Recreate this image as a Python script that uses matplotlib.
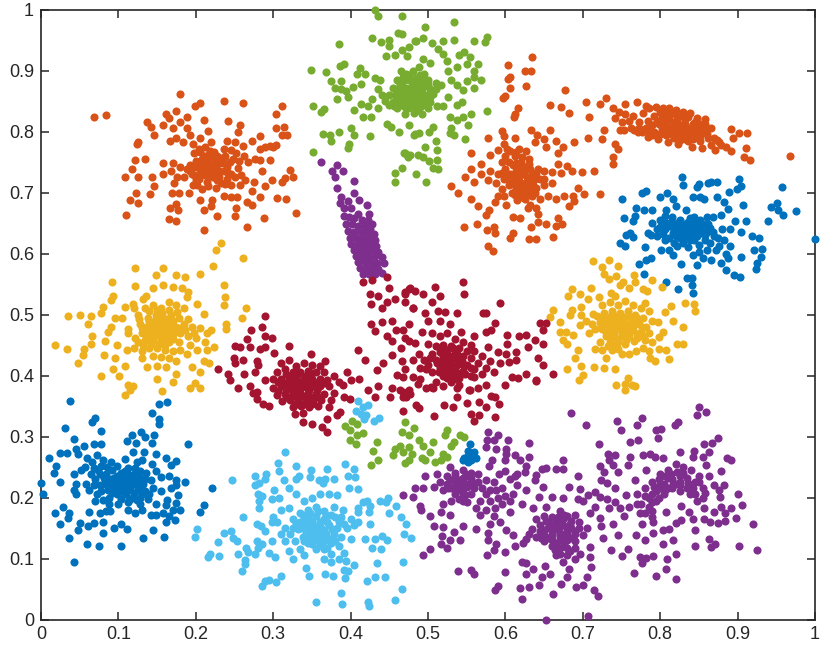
import matplotlib
matplotlib.use("Agg")
import matplotlib.pyplot as plt

tick_values = [0, .1, .2, .3, .4, .5, .6, .7, .8, .9, 1]
tick_labels = ['0', '0.1', '0.2', '0.3', '0.4', '0.5', '0.6', '0.7', '0.8', '0.9', '1']

blue_left = [(.037,.359),(.152,.354),(.163,.356),(.143,.339),(.152,.328),(.153,.321),(.070,.331),(.066,.323),(.031,.314),(.077,.309),(.117,.303),(.129,.308),(.135,.299),(.146,.302),(.042,.296),(.111,.293),(.123,.290),(.143,.289),(.190,.287),(.055,.284),(.069,.287),(.077,.288),(.045,.280),(.010,.264),(.025,.273),(.033,.273),(.048,.271),(.019,.251),(.017,.240),(.025,.225),(.000,.223),(.003,.206),(.018,.175),(.028,.184),(.036,.175),(.035,.166),(.025,.157),(.036,.133),(.043,.094),(.048,.147),(.050,.158),(.059,.124),(.075,.121),(.103,.120),(.132,.134),(.159,.135),(.145,.147),(.094,.150),(.080,.141),(.111,.149),(.104,.157),(.061,.154),(.069,.158),(.080,.160),(.062,.176),(.076,.175),(.089,.178),(.121,.174),(.142,.171),(.149,.171),(.157,.175),(.161,.160),(.173,.163),(.180,.180),(.175,.191),(.177,.204),(.161,.187),(.186,.226),(.175,.228),(.175,.221),(.165,.236),(.175,.260),(.162,.265),(.168,.253),(.149,.243),(.155,.233),(.144,.255),(.148,.271),(.133,.275),(.119,.275),(.109,.263),(.124,.258),(.221,.216),(.210,.187),(.205,.176),
(.060,.265),(.066,.258),(.057,.250),(.072,.270),(.080,.262),(.085,.250),(.090,.258),(.074,.245),(.064,.238),(.052,.245),(.043,.238),(.045,.222),(.058,.222),(.070,.230),(.062,.212),(.072,.205),(.084,.238),(.092,.245),(.098,.252),(.104,.240),(.112,.248),(.122,.248),(.130,.262),(.136,.240),(.128,.232),(.118,.236),(.108,.232),(.098,.236),(.090,.230),(.082,.222),(.092,.222),(.100,.226),(.110,.224),(.120,.222),(.132,.222),(.142,.228),(.145,.215),(.135,.210),(.125,.212),(.115,.215),(.105,.215),(.095,.214),(.086,.212),(.078,.210),(.088,.200),(.098,.205),(.108,.205),(.118,.200),(.128,.200),(.138,.198),(.148,.190),(.128,.190),(.112,.192),(.100,.190),(.088,.190),(.084,.178),(.112,.180),(.130,.180),(.168,.215),(.155,.210),(.163,.196),(.170,.180),(.165,.170),(.100,.230),(.105,.222),(.112,.212),(.095,.222),(.118,.228),(.042,.212),(.045,.205),(.080,.196),(.070,.195)]
blue_left_core = [(.094,.232),(.102,.236),(.112,.238),(.122,.240),(.086,.226),(.096,.228),(.106,.228),(.114,.230),(.124,.228),(.134,.230),(.088,.218),(.098,.218),(.108,.220),(.116,.220),(.126,.218),(.092,.208),(.102,.210),(.110,.208),(.120,.208),(.130,.206),(.140,.206),(.104,.198),(.114,.196),(.124,.196),(.076,.238),(.078,.252),(.068,.248),(.082,.232),(.076,.220),(.068,.220),(.108,.244),(.128,.244)]
blue_right = [(.828,.725),(.830,.713),(.847,.709),(.850,.714),(.862,.716),(.866,.718),(.874,.717),(.902,.722),(.905,.711),(.899,.706),(.889,.701),(.873,.693),(.957,.709),(.776,.700),(.782,.703),(.751,.690),(.800,.693),(.809,.699),(.817,.690),(.820,.678),(.842,.693),(.851,.693),(.857,.689),(.882,.685),(.888,.673),(.907,.680),(.943,.677),(.951,.683),(.952,.671),(.959,.663),(.975,.670),(.939,.654),(1.0,.624),(.769,.675),(.779,.671),(.789,.671),(.807,.672),(.833,.671),(.767,.662),(.765,.654),(.753,.658),(.868,.660),(.879,.663),(.897,.654),(.911,.653),(.904,.635),(.919,.628),(.928,.625),(.921,.605),(.932,.607),(.930,.594),(.925,.585),(.924,.575),(.903,.562),(.895,.564),(.885,.573),(.904,.595),(.890,.612),(.883,.622),(.761,.633),(.756,.630),(.765,.627),(.748,.618),(.754,.613),(.784,.633),(.781,.610),(.788,.593),(.782,.589),(.773,.583),(.779,.566),(.807,.554),(.823,.542),(.834,.560),(.841,.560),(.841,.548),(.842,.536),(.827,.582),(.847,.581),(.801,.606),(.817,.597),(.878,.585),(.888,.593),(.866,.589),(.855,.592),(.842,.598),
(.790,.650),(.796,.640),(.788,.630),(.800,.655),(.806,.662),(.815,.660),(.822,.650),(.812,.645),(.804,.632),(.812,.625),(.820,.635),(.828,.642),(.836,.652),(.844,.660),(.852,.655),(.860,.660),(.862,.648),(.852,.640),(.842,.645),(.834,.632),(.826,.625),(.838,.622),(.848,.628),(.858,.630),(.868,.635),(.880,.640),(.890,.640),(.875,.625),(.864,.618),(.850,.614),(.836,.610),(.822,.612),(.812,.606),(.830,.638),(.840,.635),(.846,.650),(.826,.655),(.835,.645),(.845,.640),(.855,.648),(.818,.640),(.808,.650),(.872,.605),(.860,.605),(.850,.603),(.876,.612),(.885,.600)]
blue_right_core = [(.806,.640),(.814,.652),(.820,.628),(.826,.634),(.832,.648),(.838,.658),(.844,.650),(.850,.648),(.856,.640),(.860,.636),(.816,.634),(.824,.644),(.832,.626),(.838,.640),(.844,.632),(.852,.634),(.858,.622),(.844,.622),(.830,.618),(.818,.618),(.806,.622),(.796,.628),(.800,.644),(.864,.642),(.870,.628)]
blue_small = [(.554,.288),(.552,.277),(.560,.275),(.547,.264),(.554,.269),(.562,.265),(.556,.261),(.552,.258),(.558,.270),(.545,.261),(.550,.267)]

orange_left = [(.068,.823),(.084,.827),(.179,.861),(.206,.847),(.199,.842),(.237,.850),(.261,.846),(.312,.842),(.303,.828),(.162,.829),(.174,.833),(.165,.822),(.188,.823),(.210,.819),(.242,.818),(.137,.815),(.142,.807),(.158,.811),(.180,.815),(.171,.805),(.257,.811),(.304,.806),(.314,.808),(.146,.795),(.312,.795),(.318,.795),(.189,.805),(.192,.794),(.216,.801),(.255,.799),(.283,.792),(.125,.783),(.124,.780),(.167,.785),(.175,.790),(.183,.783),(.272,.784),(.261,.777),(.304,.778),(.296,.777),(.283,.772),(.122,.754),(.134,.755),(.158,.749),(.170,.749),(.117,.738),(.108,.725),(.125,.725),(.144,.725),(.158,.730),(.146,.710),(.123,.700),(.141,.698),(.115,.688),(.125,.683),(.110,.663),(.165,.657),(.175,.654),(.167,.674),(.174,.681),(.177,.672),(.169,.700),(.178,.699),(.191,.700),(.206,.687),(.211,.672),(.220,.678),(.221,.687),(.227,.662),(.211,.639),(.266,.643),(.250,.661),(.252,.674),(.266,.684),(.273,.679),(.288,.658),(.330,.666),(.305,.691),(.317,.689),(.283,.693),(.273,.703),(.246,.692),(.253,.692),(.237,.694),(.311,.717),(.315,.723),(.325,.725),(.322,.737),(.298,.721),(.289,.711),(.286,.735),(.296,.753),(.283,.753),(.275,.717),(.264,.720),(.257,.712),
(.168,.735),(.176,.725),(.172,.716),(.180,.742),(.188,.738),(.185,.726),(.195,.730),(.192,.745),(.200,.752),(.206,.745),(.210,.760),(.204,.772),(.198,.764),(.212,.775),(.218,.768),(.216,.752),(.222,.745),(.214,.735),(.205,.730),(.222,.725),(.214,.718),(.230,.735),(.232,.748),(.238,.760),(.228,.760),(.236,.772),(.245,.770),(.248,.755),(.240,.742),(.246,.730),(.254,.740),(.256,.752),(.262,.760),(.268,.750),(.276,.755),(.240,.722),(.232,.715),(.226,.708),(.250,.726),(.246,.712),(.258,.728),(.216,.710),(.208,.706),(.196,.712),(.224,.738),(.218,.742),(.210,.748),(.205,.738),(.212,.728),(.226,.752),(.200,.720),(.196,.780),(.206,.790),(.220,.782),(.240,.785),(.250,.782),(.290,.775),(.300,.775)]
orange_left_core = [(.200,.742),(.208,.755),(.214,.744),(.220,.758),(.226,.744),(.232,.756),(.198,.728),(.204,.722),(.210,.732),(.218,.728),(.224,.732),(.230,.726),(.236,.736),(.242,.732),(.206,.766),(.216,.762),(.224,.766),(.236,.748),(.192,.735),(.210,.740),(.220,.736),(.228,.720),(.238,.714),(.244,.750),(.252,.764),(.202,.712),(.212,.752)]
orange_mid = [(.634,.922),(.603,.909),(.625,.899),(.633,.900),(.606,.889),(.603,.886),(.627,.875),(.606,.872),(.599,.858),(.597,.855),(.677,.868),(.616,.839),(.613,.829),(.611,.823),(.658,.843),(.672,.840),(.682,.831),(.704,.849),(.722,.845),(.730,.855),(.708,.823),(.728,.802),(.707,.790),(.725,.788),(.741,.779),(.746,.772),(.739,.759),(.739,.746),(.595,.801),(.598,.793),(.578,.789),(.613,.789),(.633,.802),(.641,.794),(.658,.802),(.650,.788),(.652,.775),(.638,.782),(.665,.784),(.674,.775),(.668,.765),(.689,.783),(.556,.765),(.580,.762),(.598,.780),(.568,.747),(.668,.747),(.680,.743),(.699,.733),(.715,.736),(.686,.736),(.556,.738),(.548,.725),(.569,.731),(.560,.717),(.530,.710),(.539,.700),(.694,.707),(.701,.697),(.722,.697),(.687,.694),(.676,.695),(.688,.686),(.682,.678),(.666,.689),(.555,.689),(.565,.678),(.586,.684),(.601,.680),(.579,.671),(.575,.663),(.610,.660),(.619,.659),(.629,.675),(.642,.664),(.668,.659),(.673,.648),(.666,.645),(.653,.648),(.642,.652),(.633,.643),(.546,.644),(.563,.649),(.576,.638),(.585,.643),(.587,.633),(.610,.634),(.606,.626),(.631,.623),(.639,.624),(.661,.627),(.578,.612),(.584,.604),
(.590,.770),(.600,.760),(.596,.750),(.606,.768),(.612,.760),(.618,.772),(.626,.768),(.630,.755),(.620,.750),(.610,.745),(.600,.738),(.590,.730),(.580,.735),(.578,.720),(.588,.715),(.598,.722),(.606,.730),(.614,.736),(.622,.730),(.632,.738),(.640,.732),(.650,.735),(.660,.733),(.672,.732),(.645,.722),(.635,.718),(.625,.715),(.615,.720),(.605,.712),(.595,.705),(.612,.702),(.620,.700),(.630,.705),(.640,.708),(.650,.712),(.625,.690),(.615,.688),(.632,.680),(.640,.675),(.645,.690),(.655,.695),(.660,.715),(.618,.725),(.628,.725),(.635,.728),(.622,.708),(.612,.712),(.598,.695),(.605,.750),(.625,.742),(.638,.700),(.590,.695)]
orange_mid_core = [(.614,.748),(.622,.758),(.628,.738),(.616,.732),(.610,.726),(.606,.718),(.620,.716),(.630,.718),(.638,.722),(.626,.708),(.616,.704),(.608,.700),(.634,.695),(.628,.698),(.620,.692),(.612,.696),(.602,.728),(.596,.732),(.642,.738),(.650,.722),(.614,.766),(.602,.772),(.618,.738),(.624,.734),(.630,.746),(.636,.712)]
orange_band = [(.739,.838),(.747,.832),(.754,.845),(.770,.848),(.782,.842),(.754,.828),(.741,.822),(.748,.803),(.753,.803),(.762,.806),(.771,.799),(.784,.791),(.797,.788),(.810,.783),(.823,.780),(.841,.775),(.854,.773),(.871,.770),(.891,.768),(.885,.775),(.874,.786),(.891,.804),(.902,.798),(.912,.797),(.894,.790),(.911,.773),(.908,.758),(.916,.753),(.968,.760),
(.765,.825),(.772,.815),(.778,.830),(.786,.838),(.795,.840),(.803,.838),(.812,.838),(.820,.835),(.830,.832),(.838,.830),(.848,.822),(.858,.820),(.858,.812),(.850,.805),(.842,.812),(.832,.820),(.822,.826),(.812,.826),(.802,.824),(.792,.826),(.784,.818),(.790,.810),(.798,.812),(.808,.815),(.818,.815),(.828,.810),(.838,.802),(.848,.795),(.858,.800),(.862,.790),(.852,.784),(.842,.788),(.832,.795),(.822,.800),(.812,.802),(.802,.802),(.792,.800),(.782,.806),(.776,.800),(.818,.790),(.808,.794),(.826,.786),(.836,.784),(.866,.778),(.878,.778),(.760,.818),(.750,.815),(.795,.795),(.845,.815),(.855,.800),(.865,.805)]
orange_band_core = [(.800,.832),(.808,.832),(.816,.830),(.826,.826),(.836,.824),(.846,.816),(.854,.812),(.796,.818),(.804,.818),(.812,.820),(.822,.818),(.832,.812),(.840,.806),(.848,.810),(.856,.806),(.802,.808),(.812,.808),(.820,.806),(.830,.802),(.838,.796),(.846,.802),(.852,.792),(.860,.796),(.806,.798),(.814,.796),(.824,.794),(.832,.788),(.842,.794),(.772,.805),(.766,.802),(.790,.794),(.786,.800),(.800,.796),(.870,.790),(.876,.782)]

yellow_left = [(.232,.618),(.226,.605),(.261,.593),(.222,.579),(.122,.577),(.158,.577),(.206,.566),(.186,.562),(.174,.564),(.149,.564),(.092,.554),(.121,.546),(.236,.549),(.238,.529),(.145,.544),(.158,.548),(.171,.545),(.182,.544),(.190,.537),(.093,.530),(.091,.523),(.236,.515),(.265,.511),(.260,.494),(.080,.513),(.035,.498),(.050,.500),(.065,.498),(.078,.503),(.061,.484),(.239,.485),(.239,.477),(.066,.465),(.086,.472),(.091,.480),(.018,.450),(.033,.444),(.064,.452),(.083,.456),(.056,.444),(.054,.433),(.048,.420),(.081,.433),(.095,.429),(.093,.411),(.078,.399),(.101,.400),(.108,.415),(.113,.385),(.119,.383),(.108,.368),(.115,.376),(.156,.375),(.170,.390),(.150,.394),(.175,.403),(.193,.379),(.206,.380),(.199,.387),(.205,.406),(.195,.414),(.210,.424),(.217,.421),(.223,.447),(.214,.441),(.201,.441),(.189,.435),(.220,.475),(.210,.501),(.201,.518),(.188,.529),(.113,.469),(.098,.450),(.113,.477),(.108,.513),(.096,.495),(.136,.531),(.132,.526),(.119,.518),(.111,.441),(.137,.414),(.162,.414),(.175,.423),
(.125,.500),(.135,.510),(.145,.515),(.155,.510),(.165,.520),(.175,.515),(.185,.510),(.128,.485),(.138,.495),(.148,.500),(.158,.495),(.168,.500),(.178,.495),(.145,.485),(.155,.480),(.165,.485),(.175,.480),(.185,.485),(.195,.480),(.205,.478),(.130,.470),(.140,.472),(.150,.470),(.160,.470),(.170,.468),(.180,.470),(.190,.465),(.200,.462),(.125,.455),(.135,.458),(.145,.458),(.155,.460),(.165,.455),(.178,.455),(.120,.445),(.130,.440),(.140,.445),(.150,.445),(.160,.442),(.170,.440),(.145,.432),(.155,.430),(.130,.428),(.165,.428),(.150,.415),(.180,.442),(.192,.450),(.152,.488),(.160,.478),(.150,.478),(.158,.488),(.165,.475),(.215,.470),(.212,.455),(.105,.495),(.120,.510)]
yellow_left_core = [(.140,.490),(.148,.492),(.156,.502),(.162,.492),(.170,.490),(.136,.480),(.144,.478),(.158,.472),(.164,.464),(.172,.476),(.180,.478),(.138,.464),(.146,.466),(.154,.464),(.160,.458),(.170,.460),(.132,.450),(.142,.452),(.152,.452),(.160,.450),(.126,.492),(.130,.478),(.122,.462),(.186,.474),(.140,.506),(.150,.508),(.166,.508),(.176,.504),(.190,.492),(.198,.470)]
yellow_right = [(.713,.588),(.734,.590),(.725,.578),(.745,.579),(.727,.567),(.734,.559),(.743,.563),(.766,.565),(.768,.553),(.752,.554),(.748,.549),(.789,.557),(.802,.545),(.760,.544),(.778,.541),(.783,.538),(.711,.544),(.686,.541),(.681,.531),(.696,.534),(.707,.526),(.721,.528),(.737,.536),(.741,.530),(.832,.519),(.844,.517),(.845,.505),(.814,.514),(.781,.519),(.806,.504),(.797,.488),(.817,.489),(.829,.480),(.804,.471),(.798,.463),(.822,.452),(.830,.452),(.799,.443),(.807,.441),(.786,.440),(.787,.429),(.793,.424),(.811,.427),(.769,.440),(.760,.435),(.750,.435),(.730,.429),(.716,.443),(.694,.442),(.690,.429),(.698,.416),(.679,.410),(.714,.414),(.728,.413),(.741,.410),(.700,.401),(.695,.393),(.758,.396),(.743,.385),(.754,.386),(.754,.377),(.764,.385),(.768,.383),(.662,.508),(.657,.496),(.670,.488),(.670,.471),(.678,.472),(.674,.458),(.679,.452),(.687,.466),(.686,.507),(.684,.499),(.698,.512),(.698,.499),(.696,.483),(.713,.501),
(.725,.515),(.735,.520),(.745,.515),(.755,.522),(.765,.515),(.775,.510),(.785,.505),(.718,.498),(.728,.502),(.738,.505),(.748,.502),(.758,.505),(.768,.500),(.778,.495),(.790,.490),(.712,.484),(.722,.488),(.732,.490),(.742,.492),(.752,.488),(.762,.488),(.772,.485),(.782,.480),(.725,.476),(.735,.478),(.745,.480),(.755,.476),(.765,.475),(.775,.472),(.785,.470),(.730,.465),(.740,.468),(.750,.465),(.760,.465),(.770,.462),(.780,.458),(.790,.455),(.722,.455),(.735,.455),(.745,.455),(.755,.452),(.725,.442),(.738,.442),(.745,.443),(.778,.445),(.745,.485),(.738,.472),(.752,.472)]
yellow_right_core = [(.728,.494),(.736,.498),(.744,.498),(.752,.496),(.760,.496),(.770,.494),(.724,.482),(.730,.484),(.738,.484),(.748,.486),(.758,.482),(.766,.482),(.776,.480),(.730,.472),(.742,.474),(.750,.470),(.760,.470),(.770,.468),(.778,.464),(.736,.462),(.746,.460),(.756,.458),(.766,.456),(.742,.450),(.732,.448),(.716,.476),(.704,.490),(.708,.470)]

purple_big = [(.685,.338),(.704,.319),(.744,.325),(.749,.311),(.770,.319),(.777,.330),(.850,.348),(.847,.335),(.859,.340),(.819,.319),(.823,.323),(.794,.311),(.801,.313),(.797,.297),(.761,.291),(.771,.295),(.721,.287),(.875,.298),(.867,.290),(.856,.288),(.577,.307),(.590,.303),(.576,.294),(.585,.295),(.604,.294),(.575,.283),(.588,.279),(.631,.289),(.601,.279),(.601,.272),(.613,.269),(.631,.267),(.619,.261),(.600,.261),(.583,.261),(.579,.251),(.626,.252),(.675,.262),(.647,.247),(.653,.248),(.666,.247),(.675,.246),(.625,.242),(.639,.237),(.694,.236),(.638,.228),(.613,.236),(.599,.243),(.592,.239),(.606,.231),(.615,.239),(.733,.271),(.742,.270),(.734,.261),(.739,.254),(.722,.251),(.727,.242),(.745,.242),(.724,.229),(.731,.223),(.742,.216),(.682,.217),(.696,.214),(.675,.199),(.694,.198),(.700,.195),(.707,.204),(.716,.209),(.722,.201),(.731,.198),(.716,.184),(.734,.182),(.741,.193),(.748,.182),(.756,.204),(.753,.169),(.722,.167),(.709,.174),(.724,.153),(.739,.157),(.746,.138),(.726,.133),(.737,.114),(.750,.104),(.759,.116),(.769,.138),(.780,.130),(.774,.103),(.782,.101),(.776,.093),(.766,.076),(.795,.071),(.807,.082),(.821,.066),(.809,.099),(.821,.108),(.817,.130),(.804,.124),(.791,.104),(.791,.142),(.804,.146),(.812,.148),(.845,.146),(.845,.121),(.863,.132),(.871,.123),(.866,.119),(.902,.121),(.925,.114),(.920,.157),(.898,.166),(.906,.188),(.901,.205),(.892,.182),(.884,.174),(.884,.161),(.875,.159),(.864,.160),(.856,.164),(.843,.165),(.827,.163),(.821,.159),(.807,.177),(.827,.186),(.837,.176),(.791,.160),(.777,.157),(.856,.182),(.870,.177),(.879,.184),(.877,.201),(.876,.212),(.882,.221),(.869,.221),(.863,.236),(.878,.243),(.859,.253),(.886,.265),(.892,.261),(.863,.275),(.855,.267),(.844,.276),(.843,.266),(.825,.275),(.804,.265),(.793,.266),(.787,.271),(.778,.269),(.761,.267),(.759,.253),(.782,.245),(.767,.228),
(.496,.236),(.511,.239),(.528,.250),(.483,.216),(.468,.204),(.480,.201),(.494,.215),(.508,.217),(.490,.186),(.491,.179),(.503,.169),(.517,.176),(.528,.172),(.519,.189),(.508,.153),(.519,.152),(.534,.144),(.545,.153),(.518,.137),(.528,.131),(.517,.123),(.525,.117),(.541,.130),(.503,.116),(.493,.106),(.539,.080),(.556,.081),(.560,.074),(.562,.149),(.578,.141),(.578,.130),(.588,.124),(.585,.114),(.576,.105),(.600,.110),(.612,.121),(.601,.146),(.610,.138),(.623,.126),(.621,.094),(.627,.093),(.600,.078),(.591,.055),(.587,.048),(.621,.033),(.619,.052),(.630,.053),(.627,.075),(.636,.082),(.644,.056),(.647,.070),(.662,.041),(.672,.059),(.679,.069),(.691,.053),(.700,.056),(.705,.069),(.714,.048),(.720,.038),(.653,.000),(.707,.005),(.682,.082),(.657,.075),(.651,.087),(.666,.105),(.711,.086),(.709,.103),(.709,.119),(.696,.108),(.545,.195),(.562,.182),(.567,.195),(.580,.195),(.586,.182),(.567,.171),(.580,.157),(.593,.160),(.606,.176),(.606,.195),(.622,.190),(.636,.182),(.652,.184),(.643,.201),(.660,.201),(.615,.220),(.626,.212),(.649,.217),(.588,.212),
(.525,.235),(.535,.240),(.545,.245),(.555,.240),(.565,.238),(.575,.228),(.585,.225),(.595,.215),(.515,.225),(.525,.222),(.535,.228),(.545,.232),(.555,.228),(.565,.225),(.520,.212),(.530,.215),(.540,.220),(.550,.218),(.560,.215),(.570,.215),(.580,.212),(.535,.205),(.545,.208),(.555,.205),(.530,.195),(.540,.198),(.550,.192),(.575,.180),(.585,.170),(.595,.190),(.545,.225),(.553,.235),(.538,.212),
(.640,.165),(.650,.170),(.660,.168),(.670,.178),(.680,.170),(.690,.172),(.645,.155),(.655,.160),(.665,.160),(.675,.165),(.685,.162),(.695,.160),(.635,.148),(.645,.145),(.655,.150),(.665,.150),(.675,.155),(.685,.150),(.695,.150),(.705,.150),(.640,.135),(.650,.138),(.660,.140),(.670,.142),(.680,.142),(.690,.140),(.700,.138),(.650,.128),(.660,.130),(.670,.130),(.680,.130),(.690,.128),(.660,.120),(.670,.118),(.680,.118),(.690,.118),(.670,.108),(.680,.105),(.690,.100),(.675,.095),(.660,.138),(.668,.148),(.678,.136),
(.770,.205),(.780,.215),(.790,.225),(.800,.238),(.810,.245),(.820,.255),(.830,.250),(.840,.245),(.850,.235),(.785,.200),(.795,.210),(.805,.222),(.815,.230),(.825,.235),(.835,.232),(.845,.225),(.855,.215),(.775,.190),(.785,.185),(.795,.195),(.805,.205),(.815,.215),(.825,.220),(.835,.215),(.845,.205),(.855,.200),(.810,.232),(.800,.222),(.820,.222),(.810,.215),(.790,.178),(.780,.175),(.770,.190),(.760,.185)]
purple_core = [(.535,.235),(.541,.228),(.549,.238),(.556,.232),(.528,.228),(.534,.218),(.544,.214),(.552,.222),(.560,.222),(.526,.216),(.538,.225),(.548,.204),(.600,.202),(.590,.200),(.575,.205),(.610,.205),
(.652,.162),(.660,.155),(.668,.168),(.676,.172),(.684,.156),(.670,.160),(.650,.146),(.660,.146),(.670,.136),(.680,.148),(.690,.145),(.646,.134),(.656,.134),(.666,.126),(.676,.124),(.686,.134),(.670,.154),(.664,.114),(.684,.112),(.630,.140),(.626,.132),
(.792,.218),(.798,.230),(.806,.235),(.814,.238),(.822,.242),(.830,.240),(.790,.205),(.798,.200),(.806,.212),(.816,.222),(.826,.226),(.836,.224),(.842,.215),(.780,.202),(.790,.192),(.800,.215),(.850,.225),(.858,.208),(.848,.195),(.838,.205),(.826,.210),(.774,.175),(.790,.168)]
purple_thin = [(.362,.750),(.382,.745),(.376,.735),(.380,.725),(.390,.735),(.405,.719),(.383,.707),(.404,.700),(.387,.693),(.386,.683),(.396,.686),(.411,.687),(.421,.679),(.391,.674),(.401,.674),(.392,.661),(.410,.665),(.424,.665),
(.398,.660),(.405,.658),(.415,.655),(.422,.655),(.428,.648),(.394,.648),(.402,.648),(.410,.645),(.418,.645),(.425,.640),(.397,.637),(.405,.635),(.413,.636),(.421,.635),(.430,.632),(.399,.626),(.407,.625),(.415,.625),(.423,.625),(.431,.622),(.401,.616),(.409,.615),(.417,.615),(.425,.615),(.433,.612),(.404,.606),(.412,.605),(.420,.606),(.428,.605),(.436,.603),(.407,.596),(.415,.596),(.423,.596),(.431,.596),(.440,.594),(.443,.585),(.410,.586),(.418,.586),(.426,.586),(.434,.585),(.412,.577),(.420,.577),(.428,.577),(.436,.575),(.416,.567),(.424,.566),(.432,.567),(.440,.568)]

green_top = [(.431,1.0),(.435,.990),(.467,.990),(.496,.971),(.533,.979),(.461,.962),(.467,.960),(.428,.954),(.439,.946),(.450,.950),(.449,.940),(.385,.943),(.484,.948),(.475,.939),(.466,.933),(.458,.926),(.446,.923),(.473,.923),(.391,.910),(.386,.907),(.349,.901),(.368,.898),(.412,.904),(.419,.894),(.408,.894),(.432,.888),(.438,.884),(.414,.878),(.403,.873),(.375,.882),(.388,.883),(.380,.871),(.387,.870),(.394,.866),(.396,.856),(.382,.853),(.428,.854),(.414,.845),(.423,.841),(.405,.835),(.435,.838),(.416,.823),(.426,.824),(.352,.842),(.366,.837),(.362,.832),(.385,.800),(.364,.796),(.373,.795),(.375,.784),(.401,.806),(.405,.795),(.425,.793),(.398,.780),(.396,.773),(.351,.767),(.447,.813),(.452,.808),(.462,.799),(.476,.811),(.483,.796),(.469,.765),(.477,.762),(.487,.761),(.467,.740),(.457,.732),(.457,.717),(.484,.731),(.483,.949),(.494,.953),(.505,.945),(.519,.949),(.534,.950),(.559,.948),(.573,.947),(.576,.955),(.513,.935),(.519,.927),(.525,.916),(.540,.926),(.547,.931),(.554,.922),(.494,.919),(.502,.913),(.551,.910),(.565,.911),(.538,.906),(.526,.900),(.560,.900),(.568,.885),(.550,.883),(.559,.890),(.530,.884),(.538,.876),(.545,.868),(.560,.872),(.517,.876),(.526,.856),(.544,.848),(.538,.844),(.519,.842),(.576,.833),(.555,.829),(.545,.824),(.538,.819),(.528,.823),(.552,.811),(.530,.806),(.528,.798),(.534,.795),(.548,.788),(.506,.808),(.501,.799),(.489,.798),(.482,.795),(.511,.769),(.510,.784),(.496,.775),(.511,.754),(.513,.739),(.506,.740),(.501,.751),(.493,.758),(.473,.761),(.470,.764),(.474,.758),(.497,.717),
(.465,.900),(.472,.895),(.480,.900),(.488,.905),(.495,.895),(.460,.885),(.468,.882),(.476,.885),(.484,.888),(.492,.885),(.500,.885),(.510,.880),(.455,.872),(.463,.872),(.471,.872),(.479,.875),(.487,.875),(.495,.875),(.503,.870),(.450,.860),(.458,.860),(.466,.862),(.474,.862),(.482,.865),(.490,.865),(.498,.860),(.506,.862),(.445,.850),(.455,.848),(.463,.850),(.471,.852),(.479,.852),(.487,.852),(.495,.850),(.503,.848),(.460,.838),(.470,.840),(.480,.842),(.490,.840),(.500,.838),(.512,.842),(.470,.828),(.482,.830),(.492,.828),(.478,.858),(.484,.858),(.472,.858),(.481,.870),(.476,.845),(.486,.846)]
green_core = [(.468,.890),(.476,.892),(.484,.880),(.490,.892),(.464,.878),(.472,.866),(.478,.868),(.486,.862),(.492,.870),(.500,.877),(.462,.866),(.468,.856),(.476,.852),(.484,.850),(.490,.856),(.497,.855),(.460,.855),(.466,.844),(.474,.838),(.486,.836),(.494,.844),(.456,.842),(.450,.843),(.440,.860),(.436,.870),(.502,.856),(.510,.870)]
green_low = [(.393,.318),(.402,.326),(.408,.321),(.399,.311),(.416,.305),(.408,.302),(.399,.294),(.407,.287),(.434,.291),(.429,.277),(.435,.262),(.426,.254),(.470,.323),(.466,.307),(.482,.314),(.475,.302),(.489,.295),(.464,.284),(.458,.279),(.455,.269),(.475,.283),(.468,.275),(.479,.271),(.475,.261),(.470,.257),(.493,.284),(.506,.291),(.502,.275),(.492,.265),(.496,.261),(.509,.258),(.517,.261),(.519,.271),(.525,.266),(.522,.302),(.525,.310),(.534,.291),(.530,.284),(.541,.302),(.546,.299)]

lightblue = [(.247,.228),(.315,.275),(.306,.256),(.308,.244),(.330,.252),(.276,.236),(.291,.239),(.289,.231),(.276,.221),(.282,.223),(.314,.229),(.333,.235),(.329,.231),(.349,.245),(.348,.233),(.370,.247),(.393,.255),(.405,.247),(.396,.235),(.406,.233),(.378,.231),(.359,.228),(.367,.230),(.364,.223),(.398,.215),(.410,.214),(.372,.206),(.383,.204),(.301,.213),(.299,.197),(.307,.199),(.286,.202),(.280,.206),(.282,.194),(.282,.182),(.438,.194),(.448,.200),(.446,.192),(.421,.194),(.425,.186),(.416,.192),(.409,.182),(.410,.177),(.424,.177),(.459,.186),(.450,.175),(.261,.168),(.465,.168),(.471,.157),(.425,.157),(.469,.140),(.478,.134),(.441,.137),(.432,.132),(.447,.131),(.418,.132),(.400,.132),(.428,.118),(.439,.115),(.434,.092),(.468,.094),(.405,.090),(.394,.096),(.392,.109),(.391,.081),(.397,.080),(.393,.068),(.377,.072),(.367,.075),(.342,.085),(.346,.072),(.310,.072),(.303,.061),(.295,.064),(.290,.063),(.285,.055),(.421,.063),(.432,.070),(.444,.069),(.466,.050),(.458,.032),(.422,.028),(.424,.022),(.388,.044),(.389,.026),(.355,.029),(.202,.148),(.199,.135),(.245,.145),(.237,.141),(.229,.127),(.248,.133),(.253,.129),(.254,.108),(.265,.117),(.267,.110),(.230,.104),(.218,.107),(.216,.102),(.264,.097),(.264,.091),(.260,.079),(.277,.108),(.294,.109),(.302,.103),(.279,.157),(.284,.154),(.290,.145),(.279,.129),(.285,.124),(.281,.117),(.299,.129),(.300,.168),(.298,.160),
(.409,.358),(.423,.351),(.416,.349),(.407,.342),(.414,.337),(.420,.335),(.417,.328),(.430,.325),(.437,.330),
(.320,.215),(.330,.205),(.340,.195),(.350,.200),(.360,.205),(.310,.180),(.320,.182),(.335,.175),(.345,.180),(.355,.185),(.365,.178),(.378,.185),(.390,.180),(.400,.165),(.410,.160),(.305,.160),(.315,.150),(.325,.165),(.335,.160),(.345,.168),(.355,.170),(.365,.165),(.375,.172),(.385,.160),(.395,.150),(.405,.155),(.310,.140),(.322,.140),(.332,.148),(.342,.155),(.352,.155),(.362,.150),(.372,.155),(.382,.150),(.315,.128),(.328,.128),(.338,.135),(.348,.142),(.358,.142),(.368,.140),(.378,.140),(.388,.135),(.320,.112),(.335,.115),(.345,.125),(.355,.130),(.365,.128),(.375,.125),(.385,.120),(.325,.100),(.340,.105),(.355,.115),(.365,.115),(.375,.108),(.385,.100),(.365,.100),(.375,.095),(.352,.148),(.360,.135),(.346,.150)]
lightblue_core = [(.338,.172),(.348,.174),(.358,.178),(.368,.172),(.340,.162),(.350,.162),(.360,.160),(.370,.160),(.380,.168),(.336,.150),(.346,.158),(.356,.150),(.366,.146),(.376,.148),(.342,.142),(.352,.136),(.362,.136),(.372,.132),(.340,.128),(.350,.124),(.360,.122),(.370,.118),(.330,.158),(.326,.150),(.388,.168),(.392,.156),(.380,.128),(.345,.134)]

red_left = [(.289,.497),(.285,.480),(.271,.474),(.290,.465),(.299,.462),(.266,.460),(.251,.449),(.257,.447),(.270,.447),(.283,.444),(.289,.447),(.301,.437),(.320,.449),(.249,.428),(.251,.420),(.261,.425),(.279,.423),(.281,.417),(.229,.410),(.242,.403),(.262,.403),(.276,.406),(.244,.392),(.255,.380),(.270,.383),(.289,.392),(.279,.373),(.395,.406),(.411,.394),(.367,.423),(.349,.435),(.274,.372),(.279,.362),(.287,.354),(.295,.350),(.328,.337),(.339,.324),(.350,.321),(.363,.316),(.369,.307),(.369,.329),(.382,.335),(.386,.340),(.399,.362),(.391,.365),
(.310,.420),(.320,.425),(.330,.415),(.340,.420),(.350,.418),(.360,.415),(.305,.405),(.315,.410),(.325,.405),(.335,.405),(.345,.408),(.355,.405),(.365,.405),(.378,.400),(.300,.395),(.310,.395),(.320,.395),(.330,.395),(.340,.395),(.350,.395),(.360,.395),(.370,.392),(.385,.390),(.300,.380),(.310,.382),(.320,.382),(.330,.385),(.340,.385),(.350,.382),(.360,.382),(.372,.382),(.390,.385),(.400,.392),(.305,.368),(.315,.370),(.325,.372),(.335,.372),(.345,.372),(.355,.370),(.365,.370),(.378,.372),(.312,.358),(.322,.360),(.332,.360),(.342,.360),(.352,.358),(.362,.360),(.375,.360),(.325,.348),(.336,.350),(.346,.348),(.358,.350),(.338,.338),(.372,.348),(.338,.390),(.332,.375),(.345,.380)]
red_left_core = [(.316,.402),(.324,.398),(.332,.402),(.342,.400),(.350,.404),(.316,.388),(.324,.388),(.334,.390),(.344,.390),(.354,.388),(.316,.376),(.326,.378),(.336,.380),(.346,.376),(.356,.376),(.318,.364),(.328,.366),(.338,.366),(.348,.364),(.358,.364),(.330,.354),(.340,.354),(.350,.353),(.306,.390),(.366,.388),(.306,.375)]
red_mid = [(.416,.554),(.428,.556),(.447,.561),(.449,.544),(.425,.534),(.436,.531),(.426,.518),(.440,.510),(.447,.521),(.457,.526),(.470,.534),(.477,.543),(.470,.521),(.481,.510),(.426,.484),(.432,.473),(.441,.488),(.454,.490),(.447,.464),(.453,.456),(.459,.474),(.468,.474),(.470,.461),(.410,.442),(.418,.425),(.434,.409),(.442,.420),(.453,.433),(.466,.423),(.460,.401),(.423,.376),(.436,.383),(.453,.379),(.464,.376),(.432,.365),(.451,.365),(.468,.365),(.470,.537),(.476,.542),(.483,.538),(.494,.533),(.509,.545),(.516,.530),(.505,.520),(.545,.553),(.547,.534),(.593,.519),(.571,.502),(.575,.503),(.537,.502),(.481,.510),(.496,.502),(.513,.506),(.522,.504),(.586,.486),(.575,.471),(.582,.474),(.559,.465),(.543,.471),(.528,.485),(.602,.467),(.617,.464),(.627,.466),(.645,.486),(.653,.486),(.649,.474),(.638,.458),(.602,.452),(.649,.452),(.629,.447),(.614,.439),(.601,.436),(.590,.439),(.577,.447),(.642,.429),(.648,.418),(.614,.425),(.605,.422),(.593,.420),(.580,.423),(.662,.403),(.627,.403),(.640,.393),(.616,.396),(.608,.397),(.599,.385),(.575,.384),(.565,.379),(.554,.376),(.538,.379),(.506,.380),(.498,.380),(.476,.376),(.468,.373),(.481,.397),(.468,.397),(.489,.435),(.476,.456),(.492,.471),(.483,.453),(.560,.397),(.586,.365),(.560,.325),(.586,.332),(.508,.334),(.556,.337),(.566,.336),(.489,.346),(.485,.351),(.468,.342),(.521,.352),(.532,.349),(.550,.355),(.566,.356),(.575,.348),(.582,.366),(.592,.354),(.477,.370),(.471,.365),(.538,.365),(.553,.376),(.640,.391),(.519,.382),(.504,.381),(.487,.386),
(.505,.470),(.515,.465),(.525,.470),(.535,.460),(.545,.455),(.555,.450),(.500,.452),(.510,.448),(.520,.450),(.530,.448),(.540,.445),(.550,.440),(.560,.440),(.570,.432),(.495,.425),(.505,.435),(.515,.438),(.525,.438),(.535,.436),(.545,.432),(.555,.428),(.565,.420),(.575,.412),(.585,.405),(.490,.412),(.500,.418),(.510,.425),(.520,.426),(.530,.425),(.540,.422),(.550,.418),(.560,.410),(.570,.402),(.505,.405),(.515,.412),(.525,.414),(.535,.414),(.545,.408),(.555,.400),(.520,.400),(.530,.402),(.540,.396),(.530,.390),(.540,.385),(.525,.425),(.532,.432),(.535,.405),(.480,.425),(.470,.410),(.490,.395),(.510,.390),(.476,.485),(.500,.490),(.515,.490),(.465,.445)]
red_mid_core = [(.516,.444),(.524,.442),(.532,.445),(.538,.436),(.520,.432),(.528,.430),(.536,.428),(.544,.424),(.512,.420),(.520,.418),(.528,.418),(.538,.418),(.546,.416),(.514,.406),(.522,.408),(.530,.408),(.540,.404),(.548,.402),(.524,.396),(.534,.394),(.502,.428),(.498,.410),(.556,.412)]

BLUE, ORANGE, YELLOW, PURPLE, GREEN, LIGHTBLUE, RED = '#0072BD', '#D95319', '#EDB120', '#7E2F8E', '#77AC30', '#4DBEEE', '#A2142F'
layers = [(blue_left, BLUE), (blue_left_core, BLUE), (blue_right, BLUE), (blue_right_core, BLUE),
          (orange_left, ORANGE), (orange_left_core, ORANGE), (orange_mid, ORANGE), (orange_mid_core, ORANGE),
          (orange_band, ORANGE), (orange_band_core, ORANGE),
          (yellow_left, YELLOW), (yellow_left_core, YELLOW), (yellow_right, YELLOW), (yellow_right_core, YELLOW),
          (purple_big, PURPLE), (purple_core, PURPLE), (purple_thin, PURPLE), (blue_small, BLUE),
          (green_top, GREEN), (green_core, GREEN), (green_low, GREEN), (lightblue, LIGHTBLUE), (lightblue_core, LIGHTBLUE),
          (red_left, RED), (red_left_core, RED), (red_mid, RED), (red_mid_core, RED)]

plt.rcParams['font.family'] = ['Liberation Sans', 'DejaVu Sans']
fig = plt.figure(figsize=(8.31, 6.55), dpi=100)
ax = fig.add_axes([41/831, 1 - 619.5/655, 774/831, 610/655])
for pts, col in layers:
    ax.scatter([p[0] for p in pts], [p[1] for p in pts], s=34, color=col, linewidths=0, clip_on=False, zorder=3)
ax.set_xlim(0, 1)
ax.set_ylim(0, 1)
ax.set_xticks(tick_values, tick_labels)
ax.set_yticks(tick_values, tick_labels)
ax.tick_params(direction='in', length=5.5, width=1.1, color='#262626', labelcolor='#262626', labelsize=13,
               top=True, right=True, pad=5)
for s in ax.spines.values():
    s.set_linewidth(1.2)
    s.set_color('#262626')
fig.savefig('out.png', dpi=100)
